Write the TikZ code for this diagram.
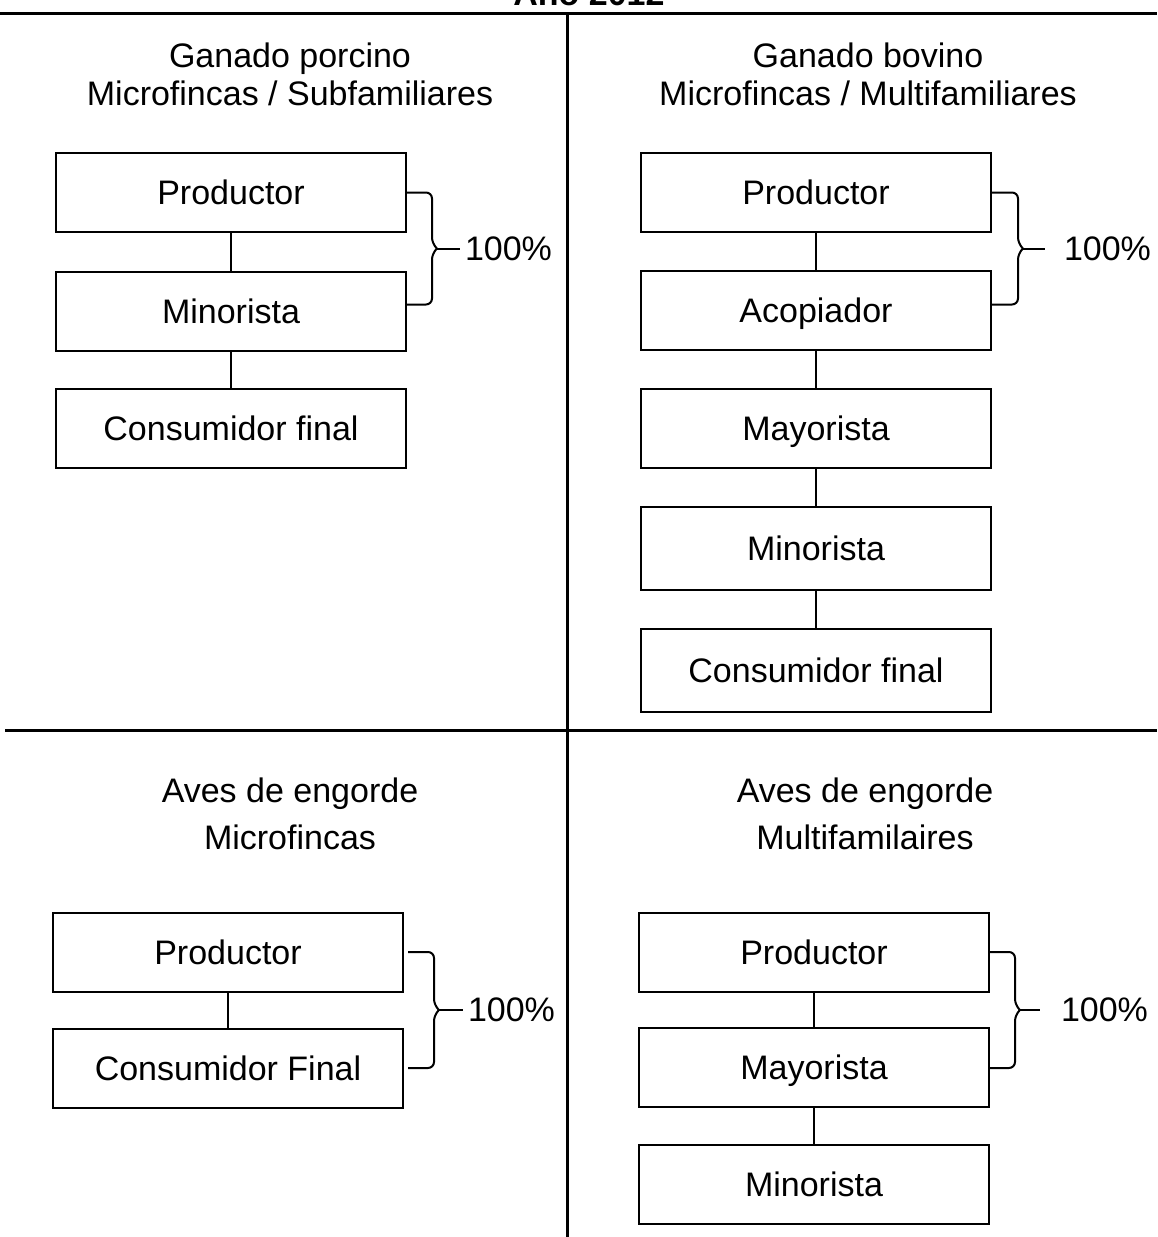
\documentclass[tikz,border=0pt]{standalone}
\usepackage{fontspec}
\setmainfont{Liberation Sans}
\usepackage{tikz}

\begin{document}
\begin{tikzpicture}[x=0.5pt, y=-0.5pt, line width=1pt,
    every node/.style={font=\fontsize{17}{20}\selectfont},
    caja/.style={shape=rectangle, draw=black, minimum width=175pt, minimum height=39.5pt,
                 text height=12.2pt, text depth=0pt, inner sep=0pt},
    titulo/.style={anchor=base, inner sep=0pt},
    llave/.style={rounded corners=3pt},
    pct/.style={anchor=west, inner sep=2pt},
    divisor/.style={line width=1.5pt}]
	\useasboundingbox (0,0) rectangle (1157,1237);
	\node[titulo, font=\fontsize{17}{20}\selectfont\bfseries] (anio) at (589,5) {Año 2012};
	\draw[divisor] (0,13) -- (1157,13);
	\draw[divisor] (567,13) -- (567,1237);
	\draw[divisor] (5,730) -- (1157,730);

	% ganado porcino
	\node[titulo] (t1a) at (290,67)  {Ganado porcino};
	\node[titulo] (t1b) at (290,105) {Microfincas / Subfamiliares};
	\node[caja] (p1) at (231, 192.5) {Productor};
	\node[caja] (m1) at (231, 311)   {Minorista};
	\node[caja] (c1) at (231, 428)   {Consumidor final};
    \path[-] (p1) edge (m1);
    \path[-] (m1) edge (c1);
    \draw[llave] (p1.east) -- ++(25,0) -- ++(0,51) -- ++(5,5) coordinate (k1);
    \draw[llave] (k1) -- ++(-5,5) -- ++(0,51) -- ++(-25,0);
    \draw (k1) -- ++(23,0) node[pct] (n1) {100\%};

	% ganado bovino
	\node[titulo] (t2a) at (868,67)  {Ganado bovino};
	\node[titulo] (t2b) at (868,105) {Microfincas / Multifamiliares};
	\node[caja] (p2) at (816, 192.5) {Productor};
	\node[caja] (a2) at (816, 310)   {Acopiador};
	\node[caja] (y2) at (816, 428)   {Mayorista};
	\node[caja, minimum height=41.5pt] (m2) at (816, 548)   {Minorista};
	\node[caja, minimum height=41.5pt] (c2) at (816, 670.5) {Consumidor final};
    \path[-] (p2) edge (a2);
    \path[-] (a2) edge (y2);
    \path[-] (y2) edge (m2);
    \path[-] (m2) edge (c2);
    \draw[llave] (p2.east) -- ++(26,0) -- ++(0,51) -- ++(5,5) coordinate (k2);
    \draw[llave] (k2) -- ++(-5,5) -- ++(0,51) -- ++(-26,0);
    \draw (k2) -- ++(22,0) node[pct, xshift=7pt] (n2) {100\%};

	% aves de engorde, microfincas
	\node[titulo] (t3a) at (290,802) {Aves de engorde};
	\node[titulo] (t3b) at (290,849) {Microfincas};
	\node[caja] (p3) at (228, 952)  {Productor};
	\node[caja] (c3) at (228, 1068) {Consumidor Final};
    \path[-] (p3) edge (c3);
    \draw[llave] ([xshift=2pt]p3.east) -- ++(26,0) -- ++(0,53) -- ++(5,5) coordinate (k3);
    \draw[llave] (k3) -- ++(-5,5) -- ++(0,53) -- ++(-26,0);
    \draw (k3) -- ++(24,0) node[pct] (n3) {100\%};

	% aves de engorde, multifamiliares
	\node[titulo] (t4a) at (865,802) {Aves de engorde};
	\node[titulo] (t4b) at (865,849) {Multifamilaires};
	\node[caja] (p4) at (814, 952)    {Productor};
	\node[caja] (y4) at (814, 1067.5) {Mayorista};
	\node[caja] (m4) at (814, 1184)   {Minorista};
    \path[-] (p4) edge (y4);
    \path[-] (y4) edge (m4);
    \draw[llave] (p4.east) -- ++(25,0) -- ++(0,53) -- ++(5,5) coordinate (k4);
    \draw[llave] (k4) -- ++(-5,5) -- ++(0,53) -- ++(-25,0);
    \draw (k4) -- ++(20,0) node[pct, xshift=8pt] (n4) {100\%};
\end{tikzpicture}
\end{document}
